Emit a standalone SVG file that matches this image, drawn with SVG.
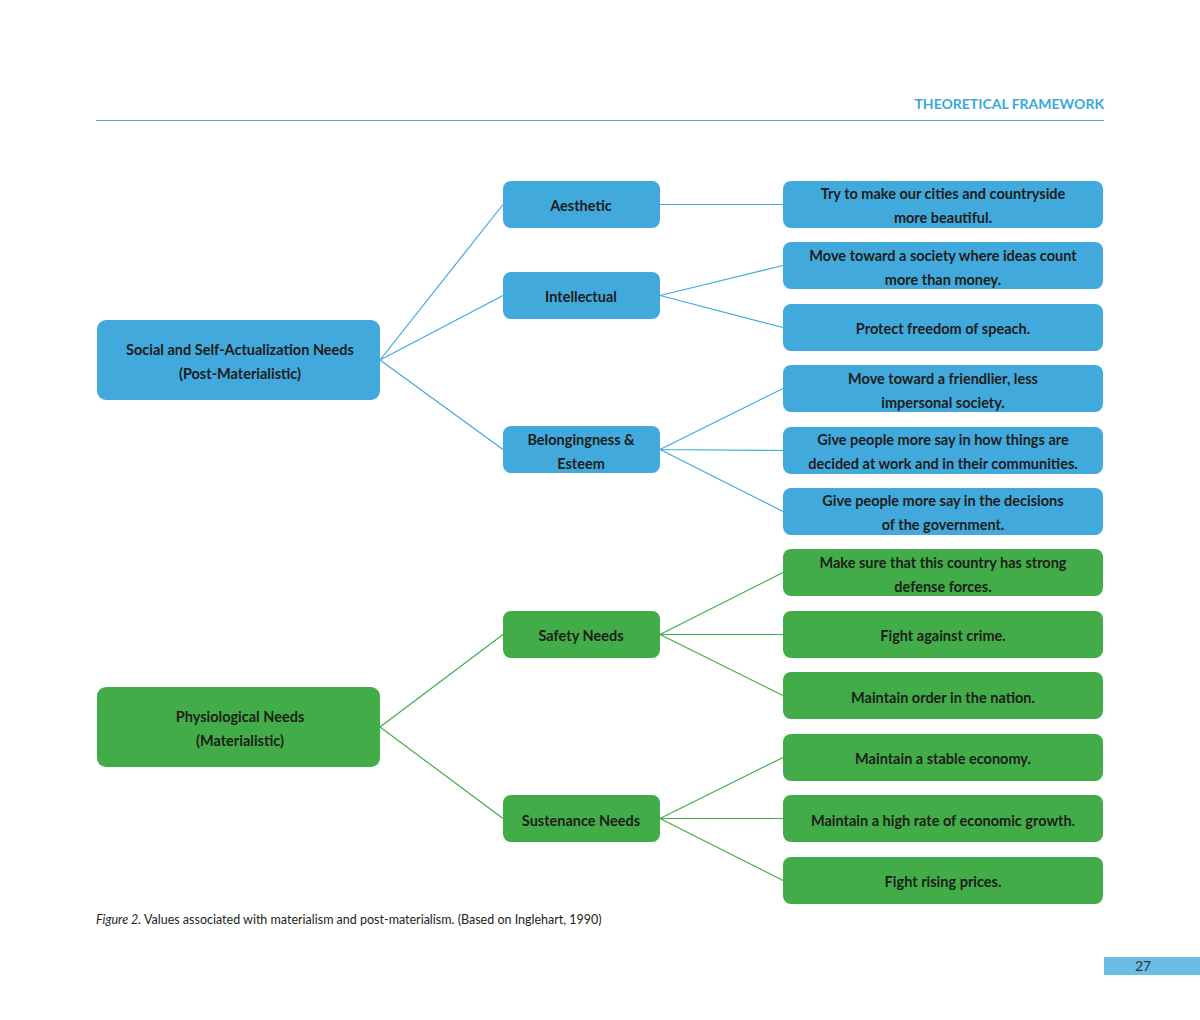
<svg xmlns="http://www.w3.org/2000/svg" width="1200" height="1020" viewBox="0 0 1200 1020">
<style>
text{font-family:Lato,"Liberation Sans",sans-serif;}
.t{font-size:14.5px;font-weight:bold;fill:#1d1d1b;text-anchor:middle;}
.b{fill:#42a9dc;}
.g{fill:#42ad48;}
.cb{stroke:#42a9dc;stroke-width:1.2;fill:none;}
.cg{stroke:#42ad48;stroke-width:1.2;fill:none;}
</style>
<rect width="1200" height="1020" fill="#fff"/>
<text x="1104" y="109" text-anchor="end" style="font-size:14px;font-weight:bold;fill:#3aa8dc">THEORETICAL FRAMEWORK</text>
<line x1="96" y1="120.5" x2="1104" y2="120.5" stroke="#42a9dc" stroke-width="1"/>
<g id="connectors">
<path class="cb" d="M380 360 L503 204.5 M380 360 L503 295.5 M380 360 L503 449.5 M660 204.5 L783 204.5 M660 295.5 L783 265.5 M660 295.5 L783 327.5 M660 449.5 L783 388.5 M660 449.5 L783 450.5 M660 449.5 L783 511.5"/>
<path class="cg" d="M380 727 L503 634.5 M380 727 L503 818.5 M660 634.5 L783 572.5 M660 634.5 L783 634.5 M660 634.5 L783 695.5 M660 818.5 L783 757.5 M660 818.5 L783 818.5 M660 818.5 L783 880.5"/>
</g>
<g id="social"><rect class="b" x="97" y="320" width="283" height="80" rx="9"/><text class="t" x="240" y="355">Social and Self-Actualization Needs</text><text class="t" x="240" y="379">(Post-Materialistic)</text></g>
<g id="physio"><rect class="g" x="97" y="687" width="283" height="80" rx="9"/><text class="t" x="240" y="722">Physiological Needs</text><text class="t" x="240" y="746">(Materialistic)</text></g>
<g id="aesthetic"><rect class="b" x="503" y="181" width="157" height="47" rx="8"/><text class="t" x="581" y="211">Aesthetic</text></g>
<g id="intellectual"><rect class="b" x="503" y="272" width="157" height="47" rx="8"/><text class="t" x="581" y="302">Intellectual</text></g>
<g id="belonging"><rect class="b" x="503" y="426" width="157" height="47" rx="8"/><text class="t" x="581" y="445">Belongingness &amp;</text><text class="t" x="581" y="469">Esteem</text></g>
<g id="safety"><rect class="g" x="503" y="611" width="157" height="47" rx="8"/><text class="t" x="581" y="641">Safety Needs</text></g>
<g id="sustenance"><rect class="g" x="503" y="795" width="157" height="47" rx="8"/><text class="t" x="581" y="826">Sustenance Needs</text></g>
<g id="r1"><rect class="b" x="783" y="181" width="320" height="47" rx="8"/><text class="t" x="943" y="199">Try to make our cities and countryside</text><text class="t" x="943" y="223">more beautiful.</text></g>
<g id="r2"><rect class="b" x="783" y="242" width="320" height="47" rx="8"/><text class="t" x="943" y="261">Move toward a society where ideas count</text><text class="t" x="943" y="285">more than money.</text></g>
<g id="r3"><rect class="b" x="783" y="304" width="320" height="47" rx="8"/><text class="t" x="943" y="334">Protect freedom of speach.</text></g>
<g id="r4"><rect class="b" x="783" y="365" width="320" height="47" rx="8"/><text class="t" x="943" y="384">Move toward a friendlier, less</text><text class="t" x="943" y="408">impersonal society.</text></g>
<g id="r5"><rect class="b" x="783" y="427" width="320" height="47" rx="8"/><text class="t" x="943" y="445">Give people more say in how things are</text><text class="t" x="943" y="469">decided at work and in their communities.</text></g>
<g id="r6"><rect class="b" x="783" y="488" width="320" height="47" rx="8"/><text class="t" x="943" y="506">Give people more say in the decisions</text><text class="t" x="943" y="530">of the government.</text></g>
<g id="r7"><rect class="g" x="783" y="549" width="320" height="47" rx="8"/><text class="t" x="943" y="568">Make sure that this country has strong</text><text class="t" x="943" y="592">defense forces.</text></g>
<g id="r8"><rect class="g" x="783" y="611" width="320" height="47" rx="8"/><text class="t" x="943" y="641">Fight against crime.</text></g>
<g id="r9"><rect class="g" x="783" y="672" width="320" height="47" rx="8"/><text class="t" x="943" y="703">Maintain order in the nation.</text></g>
<g id="r10"><rect class="g" x="783" y="734" width="320" height="47" rx="8"/><text class="t" x="943" y="764">Maintain a stable economy.</text></g>
<g id="r11"><rect class="g" x="783" y="795" width="320" height="47" rx="8"/><text class="t" x="943" y="826">Maintain a high rate of economic growth.</text></g>
<g id="r12"><rect class="g" x="783" y="857" width="320" height="47" rx="8"/><text class="t" x="943" y="887">Fight rising prices.</text></g>
<text x="96" y="924" style="font-size:12.5px;fill:#1d1d1b"><tspan font-style="italic">Figure 2.</tspan> Values associated with materialism and post-materialism. (Based on Inglehart, 1990)</text>
<rect x="1104" y="957" width="96" height="18" fill="#6bbde3"/>
<text x="1143" y="971" text-anchor="middle" style="font-size:14px;fill:#333">27</text>
</svg>
